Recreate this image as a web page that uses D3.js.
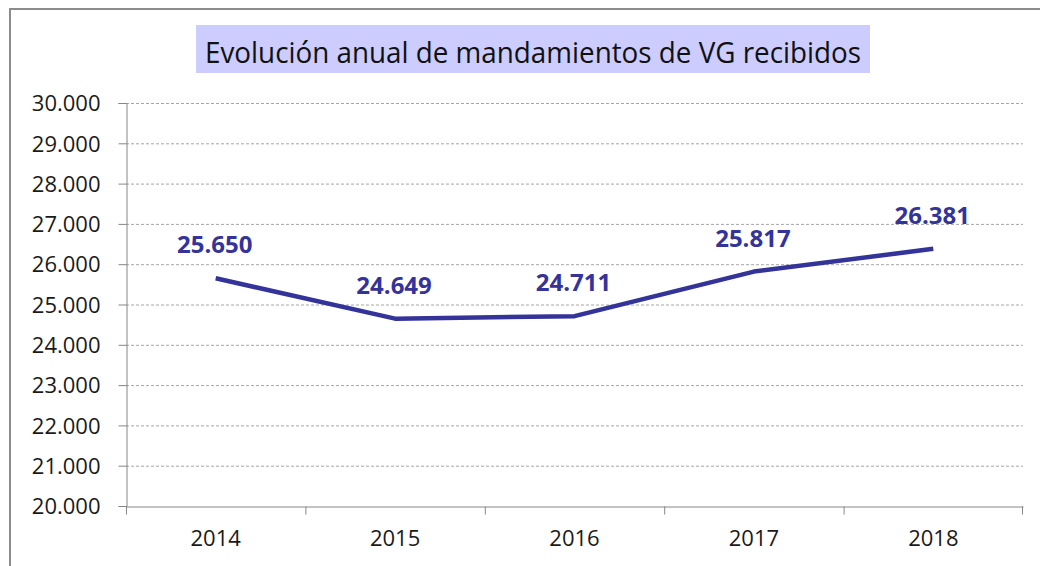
<!DOCTYPE html>
<html>
<head>
<meta charset="utf-8">
<script src="https://cdn.jsdelivr.net/npm/d3@7"></script>
<style>
  body { margin: 0; background: #fff; }
  text { font-family: "Open Sans", "Noto Sans", sans-serif; }
</style>
</head>
<body>
<svg id="chart"></svg>
<script>
/* datos del grafico */
var years = ["2014", "2015", "2016", "2017", "2018"];
var mandamientos = [25650, 24649, 24711, 25817, 26381];
var yTicks = [20000, 21000, 22000, 23000, 24000, 25000, 26000, 27000, 28000, 29000, 30000];
var title = "Evolución anual de mandamientos de VG recibidos";

var width = 1040, height = 566;
var margin = {top: 103, right: 17, bottom: 60, left: 126};

var svg = d3.select("#chart")
	.attr("width", width)
	.attr("height", height);

/* marco exterior */
svg.append("rect")
	.attr("x", 10).attr("y", 9)
	.attr("width", width + 20).attr("height", height + 20)
	.attr("fill", "#fff")
	.attr("stroke", "#8c8c8c")
	.attr("stroke-width", 2);

var fmt = function(v) {
	return d3.format(",")(v).replace(/,/g, ".");
};

var x = d3.scaleBand()
	.domain(years)
	.range([margin.left, width - margin.right]);

var y = d3.scaleLinear()
	.domain([20000, 30000])
	.range([height - margin.bottom, margin.top]);

/* lineas de cuadricula */
svg.append("g")
	.selectAll("line")
	.data(yTicks.slice(1))
	.enter()
	.append("line")
	.attr("x1", margin.left)
	.attr("x2", width - margin.right)
	.attr("y1", function(d) { return y(d) + 0.5; })
	.attr("y2", function(d) { return y(d) + 0.5; })
	.attr("stroke", "#a6a6a6")
	.attr("stroke-dasharray", "3,2");

/* eje Y */
var yAxis = svg.append("g")
	.attr("transform", "translate(" + (margin.left + 0.5) + ",0)")
	.call(d3.axisLeft(y).tickValues(yTicks).tickFormat(fmt).tickSize(8).tickPadding(18));

/* eje X */
var xAxis = svg.append("g")
	.attr("transform", "translate(0," + (y(20000) + 0.5) + ")")
	.call(d3.axisBottom(x).tickSize(0).tickPadding(24));

xAxis.selectAll(".tick line").remove();
xAxis.append("g")
	.selectAll("line")
	.data(years.concat(["end"]))
	.enter()
	.append("line")
	.attr("x1", function(d, i) { return i < years.length ? x(d) + 0.5 : x.range()[1] - 0.5; })
	.attr("x2", function(d, i) { return i < years.length ? x(d) + 0.5 : x.range()[1] - 0.5; })
	.attr("y1", 0)
	.attr("y2", 8)
	.attr("stroke", "#868686");

[yAxis, xAxis].forEach(function(ax) {
	ax.select(".domain").attr("stroke", "#868686");
	ax.selectAll(".tick line").attr("stroke", "#868686");
	ax.selectAll("text")
		.attr("fill", "#1a1a1a")
		.style("font-size", "22px")
		.style("font-family", "'Open Sans', sans-serif");
});
yAxis.selectAll("text").attr("dy", "0.35em");

/* linea */
var line = d3.line()
	.x(function(d, i) { return x(years[i]) + x.bandwidth() / 2; })
	.y(function(d) { return y(d); });

svg.append("path")
	.datum(mandamientos)
	.attr("d", line)
	.attr("fill", "none")
	.attr("stroke", "#333399")
	.attr("stroke-width", 4.5)
	.attr("stroke-linejoin", "round");

/* etiquetas de datos */
svg.append("g")
	.selectAll("text")
	.data(mandamientos)
	.enter()
	.append("text")
	.attr("x", function(d, i) { return x(years[i]) + x.bandwidth() / 2 - 1; })
	.attr("y", function(d) { return y(d) - 25; })
	.attr("text-anchor", "middle")
	.attr("fill", "#333399")
	.style("font-size", "24px")
	.style("font-weight", "bold")
	.text(fmt);

/* titulo */
svg.append("rect")
	.attr("x", 196).attr("y", 25)
	.attr("width", 674).attr("height", 48)
	.attr("fill", "#ccccff");

svg.append("text")
	.attr("x", 533)
	.attr("y", 63)
	.attr("text-anchor", "middle")
	.attr("fill", "#111")
	.attr("textLength", 656)
	.attr("lengthAdjust", "spacingAndGlyphs")
	.style("font-size", "29px")
	.text(title);
</script>
</body>
</html>
